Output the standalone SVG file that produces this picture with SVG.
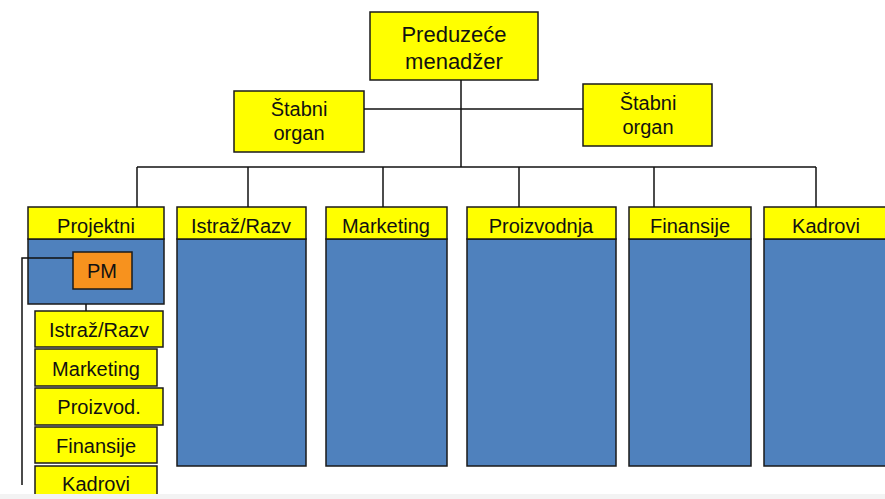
<svg xmlns="http://www.w3.org/2000/svg" width="885" height="499" viewBox="0 0 885 499">
  <style>
    .y { fill: #FFFF00; stroke: #1a1a1a; stroke-width: 1.5; }
    .b { fill: #4F81BD; stroke: #1a1a1a; stroke-width: 1.5; }
    .o { fill: #F7921E; stroke: #1a1a1a; stroke-width: 1.5; }
    .t { font-family: "Liberation Sans", Arial, sans-serif; font-size: 20px; fill: #111; text-anchor: middle; }
    .big { font-size: 22px; }
    .ln { stroke: #111; stroke-width: 1.5; fill: none; }
  </style>
  <rect width="885" height="499" fill="#ffffff"/>

  <!-- top management -->
  <g id="manager">
    <rect class="y" x="370" y="12" width="168" height="68"/>
    <text class="t big" x="454" y="42">Preduzeće</text>
    <text class="t big" x="454" y="69">menadžer</text>
  </g>
  <g id="staff-left">
    <rect class="y" x="234" y="91" width="130" height="61"/>
    <text class="t" x="299" y="116">Štabni</text>
    <text class="t" x="299" y="140">organ</text>
  </g>
  <g id="staff-right">
    <rect class="y" x="583" y="84" width="129" height="62"/>
    <text class="t" x="648" y="110">Štabni</text>
    <text class="t" x="648" y="134">organ</text>
  </g>

  <!-- departments -->
  <g id="dept-projektni">
    <rect class="b" x="28" y="239" width="136" height="65"/>
    <rect class="y" x="28" y="207" width="136" height="32"/>
    <text class="t" x="96" y="233">Projektni</text>
  </g>
  <g id="pm">
    <rect class="o" x="73" y="252" width="59" height="37"/>
    <text class="t" x="102" y="278">PM</text>
  </g>
  <g id="dept-istraz">
    <rect class="b" x="177" y="239" width="129" height="227"/>
    <rect class="y" x="177" y="207" width="129" height="32"/>
    <text class="t" x="241" y="233">Istraž/Razv</text>
  </g>
  <g id="dept-marketing">
    <rect class="b" x="326" y="239" width="121" height="227"/>
    <rect class="y" x="326" y="207" width="121" height="32"/>
    <text class="t" x="386" y="233">Marketing</text>
  </g>
  <g id="dept-proizvodnja">
    <rect class="b" x="467" y="239" width="149" height="227"/>
    <rect class="y" x="467" y="207" width="149" height="32"/>
    <text class="t" x="541" y="233">Proizvodnja</text>
  </g>
  <g id="dept-finansije">
    <rect class="b" x="629" y="239" width="122" height="227"/>
    <rect class="y" x="629" y="207" width="122" height="32"/>
    <text class="t" x="690" y="233">Finansije</text>
  </g>
  <g id="dept-kadrovi">
    <rect class="b" x="764" y="239" width="130" height="227"/>
    <rect class="y" x="764" y="207" width="130" height="32"/>
    <text class="t" x="826" y="233">Kadrovi</text>
  </g>

  <!-- project team members -->
  <g id="team-istraz">
    <rect class="y" x="35" y="311" width="128" height="36"/>
    <text class="t" x="99" y="337">Istraž/Razv</text>
  </g>
  <g id="team-marketing">
    <rect class="y" x="35" y="349" width="122" height="37"/>
    <text class="t" x="96" y="376">Marketing</text>
  </g>
  <g id="team-proizvod">
    <rect class="y" x="35" y="388" width="128" height="37"/>
    <text class="t" x="99" y="414">Proizvod.</text>
  </g>
  <g id="team-finansije">
    <rect class="y" x="35" y="427" width="122" height="36"/>
    <text class="t" x="96" y="453">Finansije</text>
  </g>
  <g id="team-kadrovi">
    <rect class="y" x="35" y="466" width="122" height="40"/>
    <text class="t" x="96" y="491">Kadrovi</text>
  </g>

  <!-- connectors (drawn last so the PM link shows over the blue panel) -->
  <g id="connectors">
    <line class="ln" x1="461" y1="80" x2="461" y2="167"/>
    <line class="ln" x1="364" y1="109" x2="583" y2="109"/>
    <line class="ln" x1="137" y1="167" x2="816" y2="167"/>
    <line class="ln" x1="137" y1="167" x2="137" y2="207"/>
    <line class="ln" x1="248" y1="167" x2="248" y2="207"/>
    <line class="ln" x1="383" y1="167" x2="383" y2="207"/>
    <line class="ln" x1="519" y1="167" x2="519" y2="207"/>
    <line class="ln" x1="654" y1="167" x2="654" y2="207"/>
    <line class="ln" x1="816" y1="167" x2="816" y2="207"/>
    <line class="ln" x1="86" y1="304" x2="86" y2="311"/>
    <polyline class="ln" points="73,258 22,258 22,485"/>
  </g>

  <rect x="0" y="494" width="885" height="5" fill="#f3f3f3"/>
</svg>
